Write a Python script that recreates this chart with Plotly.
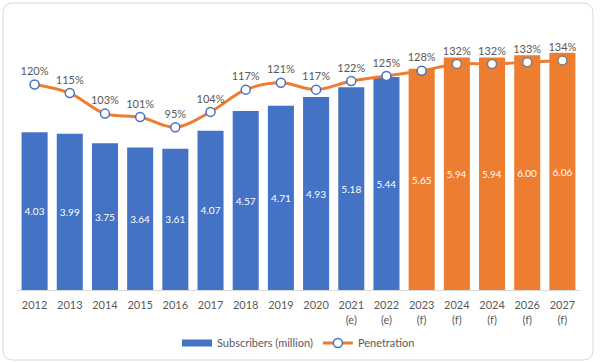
import plotly.graph_objects as go

years = ["2012", "2013", "2014", "2015", "2016", "2017", "2018", "2019", "2020",
         "2021<br>(e)", "2022<br>(e)", "2023<br>(f)", "2024<br>(f)", "2024<br>(f)",
         "2026<br>(f)", "2027<br>(f)"]
subscribers = [4.03, 3.99, 3.75, 3.64, 3.61, 4.07, 4.57, 4.71, 4.93, 5.18, 5.44,
               5.65, 5.94, 5.94, 6.00, 6.06]
penetration = [1.20, 1.15, 1.03, 1.01, 0.95, 1.04, 1.17, 1.21, 1.17, 1.22, 1.25,
               1.28, 1.32, 1.32, 1.33, 1.34]
forecast_from = 11  # index where orange forecast bars start

BLUE = "#4472C4"
ORANGE = "#ED7D31"
GRAY = "#595959"
FONT = "Lato"

xs = list(range(len(years)))
bar_colors = [BLUE if i < forecast_from else ORANGE for i in xs]
marker_lines = [BLUE if i < 12 else "#7F7F7F" for i in xs]

fig = go.Figure()
fig.add_trace(go.Bar(
    x=xs, y=subscribers, name="Subscribers (million)", showlegend=False,
    marker=dict(color=bar_colors, line=dict(width=0)),
    text=[f"{v:.2f}" for v in subscribers],
    textposition="inside", insidetextanchor="middle", textangle=0,
    textfont=dict(color="white", size=11, family=FONT),
    hoverinfo="skip",
))
# legend-only swatch mimicking the wide bar key
fig.add_trace(go.Scatter(
    x=[None], y=[None], name="Subscribers (million)", mode="lines",
    line=dict(color=BLUE, width=7), hoverinfo="skip",
))
fig.add_trace(go.Scatter(
    x=xs, y=penetration, name="Penetration", yaxis="y2",
    mode="lines+markers+text",
    line=dict(color=ORANGE, width=3, shape="spline", smoothing=1.0),
    marker=dict(size=9, color="white", line=dict(color=marker_lines, width=1.5)),
    text=[f"{round(v*100)}%" for v in penetration],
    textposition="top center",
    textfont=dict(color=GRAY, size=11, family=FONT),
    hoverinfo="skip",
))

L, R, T, B = 17, 20, 16, 72
W, H = 600, 362
pw, ph = W - L - R, H - T - B

# rounded card border in paper coordinates
x0, x1 = (3 - L) / pw, (593 - L) / pw
y0, y1 = (290 - 360) / ph, (290 - 3) / ph
rx, ry = 10 / pw, 10 / ph
path = (f"M {x0+rx},{y1} L {x1-rx},{y1} Q {x1},{y1} {x1},{y1-ry} "
        f"L {x1},{y0+ry} Q {x1},{y0} {x1-rx},{y0} "
        f"L {x0+rx},{y0} Q {x0},{y0} {x0},{y0+ry} "
        f"L {x0},{y1-ry} Q {x0},{y1} {x0+rx},{y1} Z")

fig.update_layout(
    width=W, height=H,
    margin=dict(l=L, r=R, t=T, b=B, autoexpand=False),
    paper_bgcolor="white", plot_bgcolor="white",
    bargap=0.26,
    showlegend=True,
    legend=dict(orientation="h", x=0.5, xanchor="center",
                yref="container", y=1 - 343 / H, yanchor="middle",
                font=dict(color=GRAY, size=11, family=FONT),
                itemwidth=30, traceorder="normal"),
    font=dict(family=FONT, color=GRAY),
    xaxis=dict(tickmode="array", tickvals=xs, ticktext=years,
               range=[-0.5, len(xs) - 0.5],
               showline=True, linecolor="#D9D9D9", linewidth=1,
               showgrid=False, ticks="", ticklabelstandoff=5,
               tickfont=dict(size=11, color=GRAY)),
    yaxis=dict(range=[0, 7], showgrid=False, zeroline=False, showticklabels=False),
    yaxis2=dict(range=[0, 1.6], overlaying="y", showgrid=False, zeroline=False,
                showticklabels=False, side="right"),
    shapes=[dict(type="path", path=path, xref="paper", yref="paper",
                 line=dict(color="#D9D9D9", width=1), layer="below")],
)

fig.write_html("out.html", config={"displayModeBar": False},
               post_script="document.body.style.margin='0';")
